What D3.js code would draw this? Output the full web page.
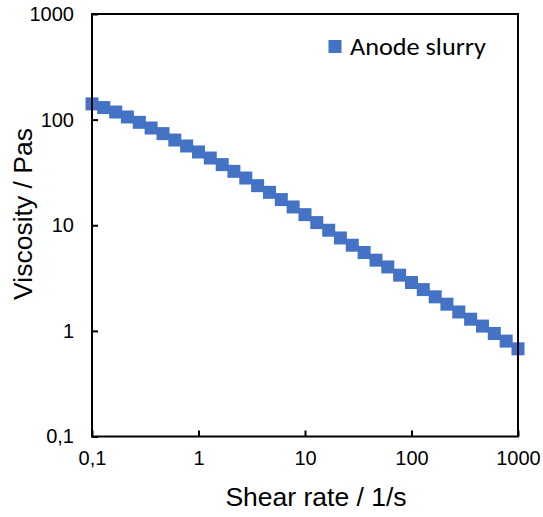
<!DOCTYPE html>
<html>
<head>
<meta charset="utf-8">
<script src="https://cdn.jsdelivr.net/npm/d3@7/dist/d3.min.js"></script>
<style>
  html, body { margin: 0; padding: 0; background: #fff; }
  svg { display: block; }
</style>
</head>
<body>
<svg id="chart" width="543" height="517"></svg>
<script>
// Shear rate (1/s), log-spaced measurement points
const shearRate = [0.1, 0.129, 0.167, 0.215, 0.278, 0.359, 0.464, 0.599, 0.774,
  1, 1.29, 1.67, 2.15, 2.78, 3.59, 4.64, 5.99, 7.74,
  10, 12.9, 16.7, 21.5, 27.8, 35.9, 46.4, 59.9, 77.4,
  100, 129, 167, 215, 278, 359, 464, 599, 774, 1000];
// Viscosity (Pa s)
const viscosity = [141, 130, 118, 106, 94.3, 83.3, 73.7, 64.1, 56.3,
  49.4, 43.3, 37.5, 32.4, 28.0, 23.7, 20.5, 17.5, 14.9,
  12.6, 10.6, 8.97, 7.58, 6.47, 5.52, 4.67, 4.03, 3.37,
  2.87, 2.46, 2.10, 1.79, 1.51, 1.29, 1.11, 0.945, 0.80, 0.676];
const xTicks = [0.1, 1, 10, 100, 1000];
const yTicks = [0.1, 1, 10, 100, 1000];
const tickLabel = v => (v < 1 ? String(v).replace(".", ",") : String(v));
const seriesName = "Anode slurry";
const xTitle = "Shear rate / 1/s";
const yTitle = "Viscosity / Pas";

(function () {
const svg = d3.select("#chart");
const pLeft = 92, pRight = 518, pTop = 14, pBottom = 436.5;
const x = d3.scaleLog().domain([0.1, 1000]).range([pLeft, pRight]);
const y = d3.scaleLog().domain([0.1, 1000]).range([pBottom, pTop]);
const color = "#4472C4";
const tickFont = "Arial, 'Liberation Sans', sans-serif";

// Markers
const ms = 13;
svg.append("g").selectAll("rect")
  .data(shearRate.map((d, i) => [d, viscosity[i]]))
  .join("rect")
  .attr("x", d => x(d[0]) - ms / 2)
  .attr("y", d => y(d[1]) - ms / 2)
  .attr("width", ms).attr("height", ms)
  .attr("fill", color);

// Axes (ticks inward)
const xAxis = d3.axisBottom(x).tickValues(xTicks).tickSize(-6).tickSizeOuter(0).tickFormat(tickLabel).tickPadding(14);
const yAxis = d3.axisLeft(y).tickValues(yTicks).tickSize(-6).tickSizeOuter(0).tickFormat(tickLabel).tickPadding(18);

const gx = svg.append("g").attr("transform", `translate(0,${pBottom})`).call(xAxis);
const gy = svg.append("g").attr("transform", `translate(${pLeft},0)`).call(yAxis);
[gx, gy].forEach(g => {
  g.select(".domain").remove();
  g.selectAll(".tick line").attr("stroke", "#000").attr("stroke-width", 2);
  g.selectAll(".tick text").attr("fill", "#000").style("font-family", tickFont).style("font-size", "20px");
});

// Frame
svg.append("rect")
  .attr("x", pLeft).attr("y", pTop)
  .attr("width", pRight - pLeft).attr("height", pBottom - pTop)
  .attr("fill", "none").attr("stroke", "#000").attr("stroke-width", 2);

// Axis titles
svg.append("text")
  .attr("x", 316).attr("y", 506)
  .attr("text-anchor", "middle")
  .style("font-family", tickFont).style("font-size", "26.5px")
  .text(xTitle);
svg.append("text")
  .attr("transform", `translate(32,214) rotate(-90)`)
  .attr("text-anchor", "middle")
  .style("font-family", tickFont).style("font-size", "26.5px")
  .text(yTitle);

// Legend
const lg = svg.append("g");
lg.append("rect").attr("x", 328.5).attr("y", 40).attr("width", 13).attr("height", 13).attr("fill", color);
lg.append("text").attr("x", 350).attr("y", 54.5)
  .style("font-family", "Carlito, Lato, 'Open Sans', sans-serif").style("font-size", "24px")
  .attr("textLength", 136).attr("lengthAdjust", "spacingAndGlyphs")
  .attr("fill", "#000")
  .text(seriesName);
})();
</script>
</body>
</html>
